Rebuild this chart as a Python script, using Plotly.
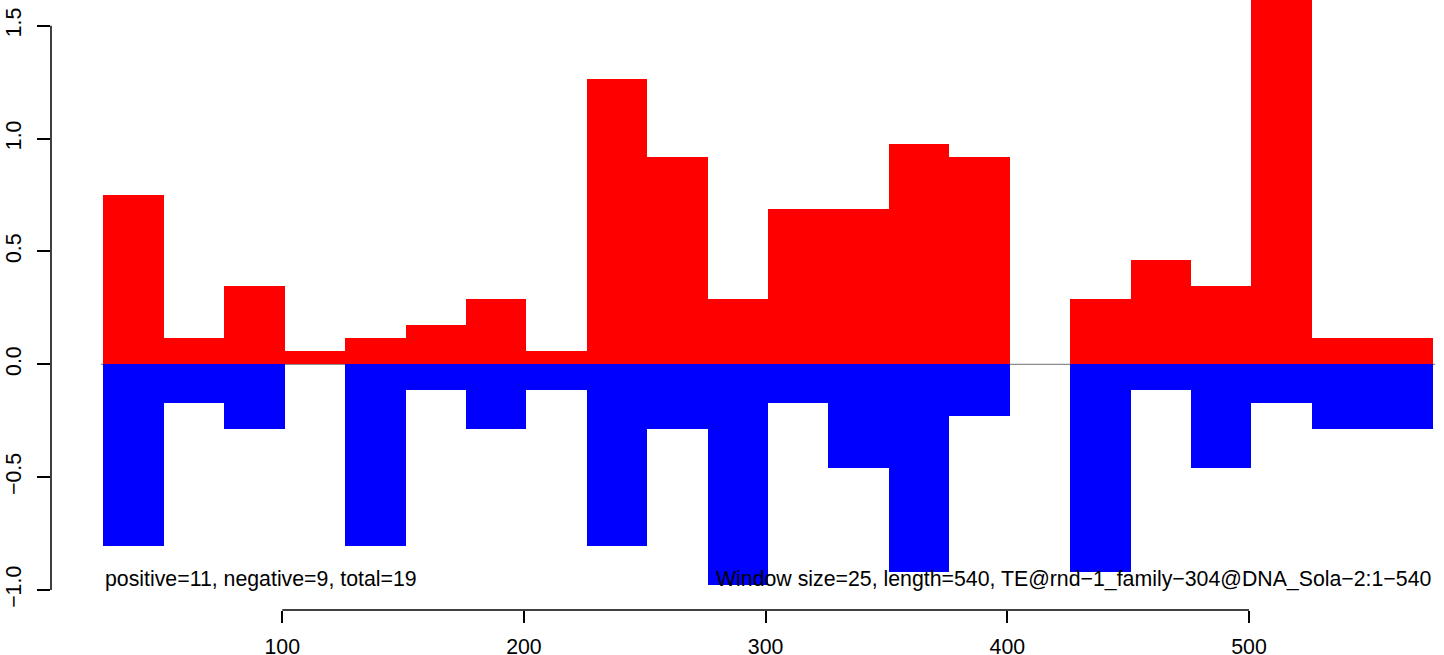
import plotly.graph_objects as go

# Window start positions (bp) and window size
window_size = 25
window_start = [26, 51, 76, 101, 126, 151, 176, 201, 226, 251, 276,
                301, 326, 351, 376, 401, 426, 451, 476, 501, 526, 551]

# Positive (red) and negative (blue) values per window
positive = [0.75, 0.115, 0.345, 0.0575, 0.115, 0.1725, 0.2875, 0.0575, 1.265, 0.92, 0.2875,
            0.69, 0.69, 0.9775, 0.92, 0.0, 0.2875, 0.46, 0.345, 1.725, 0.115, 0.115]
negative = [-0.805, -0.1725, -0.2875, 0.0, -0.805, -0.115, -0.2875, -0.115, -0.805, -0.2875, -0.9775,
            -0.1725, -0.46, -0.92, -0.23, 0.0, -0.92, -0.115, -0.46, -0.1725, -0.2875, -0.2875]

x_ticks = [100, 200, 300, 400, 500]
x_tick_labels = ["100", "200", "300", "400", "500"]
y_ticks = [-1.0, -0.5, 0.0, 0.5, 1.0, 1.5]
y_tick_labels = ["\u22121.0", "\u22120.5", "0.0", "0.5", "1.0", "1.5"]

left_text = "positive=11, negative=9, total=19"
right_text = "Window size=25, length=540, TE@rnd\u22121_family\u2212304@DNA_Sola\u22122:1\u2212540"

FONT = "Liberation Sans, Arial, Helvetica, sans-serif"
FS = 21.3

fig = go.Figure()
fig.add_trace(go.Bar(x=window_start, y=positive, width=window_size, offset=0,
                     marker=dict(color="#FF0000", line=dict(width=0)), showlegend=False))
fig.add_trace(go.Bar(x=window_start, y=negative, width=window_size, offset=0,
                     marker=dict(color="#0000FF", line=dict(width=0)), showlegend=False))

# grey zero line under the bars
fig.add_shape(type="line", xref="x", yref="y",
              x0=window_start[0] - 1, x1=window_start[-1] + window_size + 1, y0=0, y1=0,
              line=dict(color="#8c8c8c", width=1.2), layer="below")

# R-style axis lines spanning first to last tick only
fig.add_shape(type="line", xref="paper", yref="y", x0=0, x1=0,
              y0=y_ticks[0], y1=y_ticks[-1], line=dict(color="black", width=1.5))
fig.add_shape(type="line", xref="x", yref="paper", x0=x_ticks[0], x1=x_ticks[-1],
              y0=0, y1=0, line=dict(color="black", width=1.5))

fig.add_annotation(x=window_start[0], y=-0.95, xref="x", yref="y", text=left_text,
                   showarrow=False, xanchor="left", yanchor="middle",
                   font=dict(family=FONT, size=FS, color="black"))
fig.add_annotation(x=window_start[-1] + window_size, y=-0.95, xref="x", yref="y", text=right_text,
                   showarrow=False, xanchor="right", yanchor="middle",
                   font=dict(family=FONT, size=FS, color="black"))

fig.update_layout(
    width=1444, height=655,
    margin=dict(l=51, r=0, t=0, b=45, autoexpand=False),
    paper_bgcolor="white", plot_bgcolor="white",
    barmode="overlay", bargap=0,
    font=dict(family=FONT, size=FS, color="black"),
    xaxis=dict(range=[4.3, 580.7], tickvals=x_ticks, ticktext=x_tick_labels,
               ticks="outside", ticklen=12, tickwidth=1.5, tickcolor="black",
               showgrid=False, zeroline=False, showline=False, automargin=False,
               tickfont=dict(family=FONT, size=FS), ticklabelstandoff=5),
    yaxis=dict(range=[-1.0886, 1.614], tickvals=y_ticks, ticktext=y_tick_labels,
               ticks="outside", ticklen=13, tickwidth=1.5, tickcolor="black",
               showgrid=False, zeroline=False, showline=False, tickangle=-90, automargin=False,
               tickfont=dict(family=FONT, size=FS), ticklabelstandoff=7),
)

fig.write_html("out.html", config={"displayModeBar": False},
               post_script="document.body.style.margin='0';document.body.style.overflow='hidden';")
